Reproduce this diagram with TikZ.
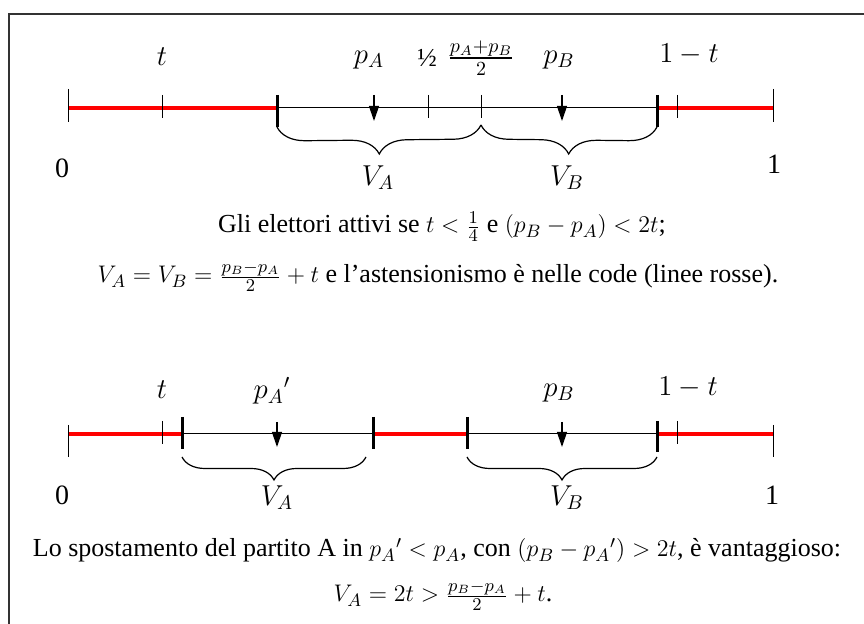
\documentclass[tikz,border=0pt]{standalone}
\usepackage{amsmath}
\usepackage{fontspec}
\setmainfont{Liberation Serif}
\usetikzlibrary{arrows.meta,decorations.pathreplacing}

\begin{document}
\begin{tikzpicture}[x=0.5pt,y=-0.5pt,
	every node/.style={font=\fontsize{13}{16}\selectfont, inner sep=0pt},
	mlabel/.style={font=\fontsize{14}{16}\selectfont},
	axis/.style={line width=0.5pt},
	tail/.style={red, line width=1.6pt},
	thintick/.style={line width=0.5pt},
	thicktick/.style={line width=1.5pt},
	marker/.style={line width=0.6pt, -{Triangle[width=5pt,length=7.5pt]}},
	curly/.style={decorate, decoration={brace, mirror, amplitude=#1}, line width=0.6pt},
	endlabel/.style={font=\fontsize{14}{16}\selectfont}]
	\useasboundingbox (0,0) rectangle (864,624);
	\draw[black!80, line width=0.8pt] (9,630) -- (9,14) -- (870,14);
	% first line
	\coordinate (z1) at (68,108); \coordinate (t1) at (162,108);
	\coordinate (a1) at (277,108); \coordinate (pa1) at (374,108);
	\coordinate (h1) at (428,108); \coordinate (m1) at (481,108);
	\coordinate (pb1) at (562,108); \coordinate (b1) at (657,108);
	\coordinate (s1) at (677,108); \coordinate (o1) at (773,108);
	\draw[axis] (z1) -- (o1);
	\draw[tail] (z1) -- (a1);
	\draw[tail] (b1) -- (o1);
	\draw[thintick] (z1) ++(0,-19) -- ++(0,33);
	\draw[thintick] (o1) ++(0,-19) -- ++(0,33);
	\foreach \p in {t1,h1,m1,s1}
		\draw[thintick] (\p) ++(0,-13) -- ++(0,23);
	\draw[thicktick] (a1) ++(0,-13) -- ++(0,32);
	\draw[thicktick] (b1) ++(0,-13) -- ++(0,32);
	\draw[marker] (pa1) ++(0,-13) -- ++(0,26);
	\draw[marker] (pb1) ++(0,-13) -- ++(0,26);
	\coordinate (a1b) at (277,127); \coordinate (m1b) at (481,125);
	\coordinate (b1b) at (657,127);
	\draw[curly=14pt] (a1b) -- (m1b);
	\draw[curly=14pt] (m1b) -- (b1b);
	\node[mlabel] (lt1) at (162,57) {$t$};
	\node[mlabel] (lpa1) at (369,60) {$p_A$};
	\node (lh1) at (427,58) {½};
	\node[mlabel] (lm1) at (481,58) {$\frac{p_A+p_B}{2}$};
	\node[mlabel] (lpb1) at (559,60) {$p_B$};
	\node[mlabel] (ls1) at (689,54) {$1-t$};
	\node[endlabel] (lz1) at (62,168) {0};
	\node[endlabel] (lo1) at (774,164) {1};
	\node[mlabel] (lva1) at (378,178) {$V_A$};
	\node[mlabel] (lvb1) at (567,178) {$V_B$};
	\node[anchor=base] (txt1) at (442,233) {Gli elettori attivi se $t<\frac{1}{4}$\ e $(p_B-p_A)<2t$;};
	\node[anchor=base] (txt2) at (438,283) {$V_A=V_B=\frac{p_B-p_A}{2}+t$ e l’astensionismo è nelle code (linee rosse).};
	% second line
	\coordinate (z2) at (68,434); \coordinate (t2) at (162,434);
	\coordinate (a2) at (182,434); \coordinate (pa2) at (277,434);
	\coordinate (c2) at (373,434); \coordinate (d2) at (467,434);
	\coordinate (pb2) at (562,434); \coordinate (b2) at (657,434);
	\coordinate (s2) at (677,434); \coordinate (o2) at (773,434);
	\draw[axis] (z2) -- (o2);
	\draw[tail] (z2) -- (a2);
	\draw[tail] (c2) -- (d2);
	\draw[tail] (b2) -- (o2);
	\draw[thintick] (z2) ++(0,-9) -- ++(0,32);
	\draw[thintick] (o2) ++(0,-9) -- ++(0,32);
	\draw[thintick] (t2) ++(0,-13) -- ++(0,23);
	\draw[thintick] (s2) ++(0,-13) -- ++(0,23);
	\foreach \p in {a2,c2,d2}
		\draw[thicktick] (\p) ++(0,-17) -- ++(0,32);
	\draw[thicktick] (b2) ++(0,-13) -- ++(0,31);
	\draw[marker] (pa2) ++(0,-12) -- ++(0,25);
	\draw[marker] (pb2) ++(0,-12) -- ++(0,25);
	\coordinate (a2b) at (182,457); \coordinate (c2b) at (366,457);
	\coordinate (d2b) at (467,457); \coordinate (b2b) at (657,457);
	\draw[curly=11.5pt] (a2b) -- (c2b);
	\draw[curly=11.5pt] (d2b) -- (b2b);
	\node[mlabel] (lt2) at (162,390) {$t$};
	\node[mlabel] (lpa2) at (272,391) {${p_A}'$};
	\node[mlabel] (lpb2) at (559,393) {$p_B$};
	\node[mlabel] (ls2) at (688,387) {$1-t$};
	\node[endlabel] (lz2) at (62,495) {0};
	\node[endlabel] (lo2) at (772,495) {1};
	\node[mlabel] (lva2) at (277,498) {$V_A$};
	\node[mlabel] (lvb2) at (567,498) {$V_B$};
	\node[anchor=base] (txt3) at (437,557) {Lo spostamento del partito A in ${p_A}'<p_A$, con $(p_B-{p_A}')>2t$, è vantaggioso:};
	\node[anchor=base] (txt4) at (443,602) {$V_A=2t>\frac{p_B-p_A}{2}+t$.};
\end{tikzpicture}
\end{document}
